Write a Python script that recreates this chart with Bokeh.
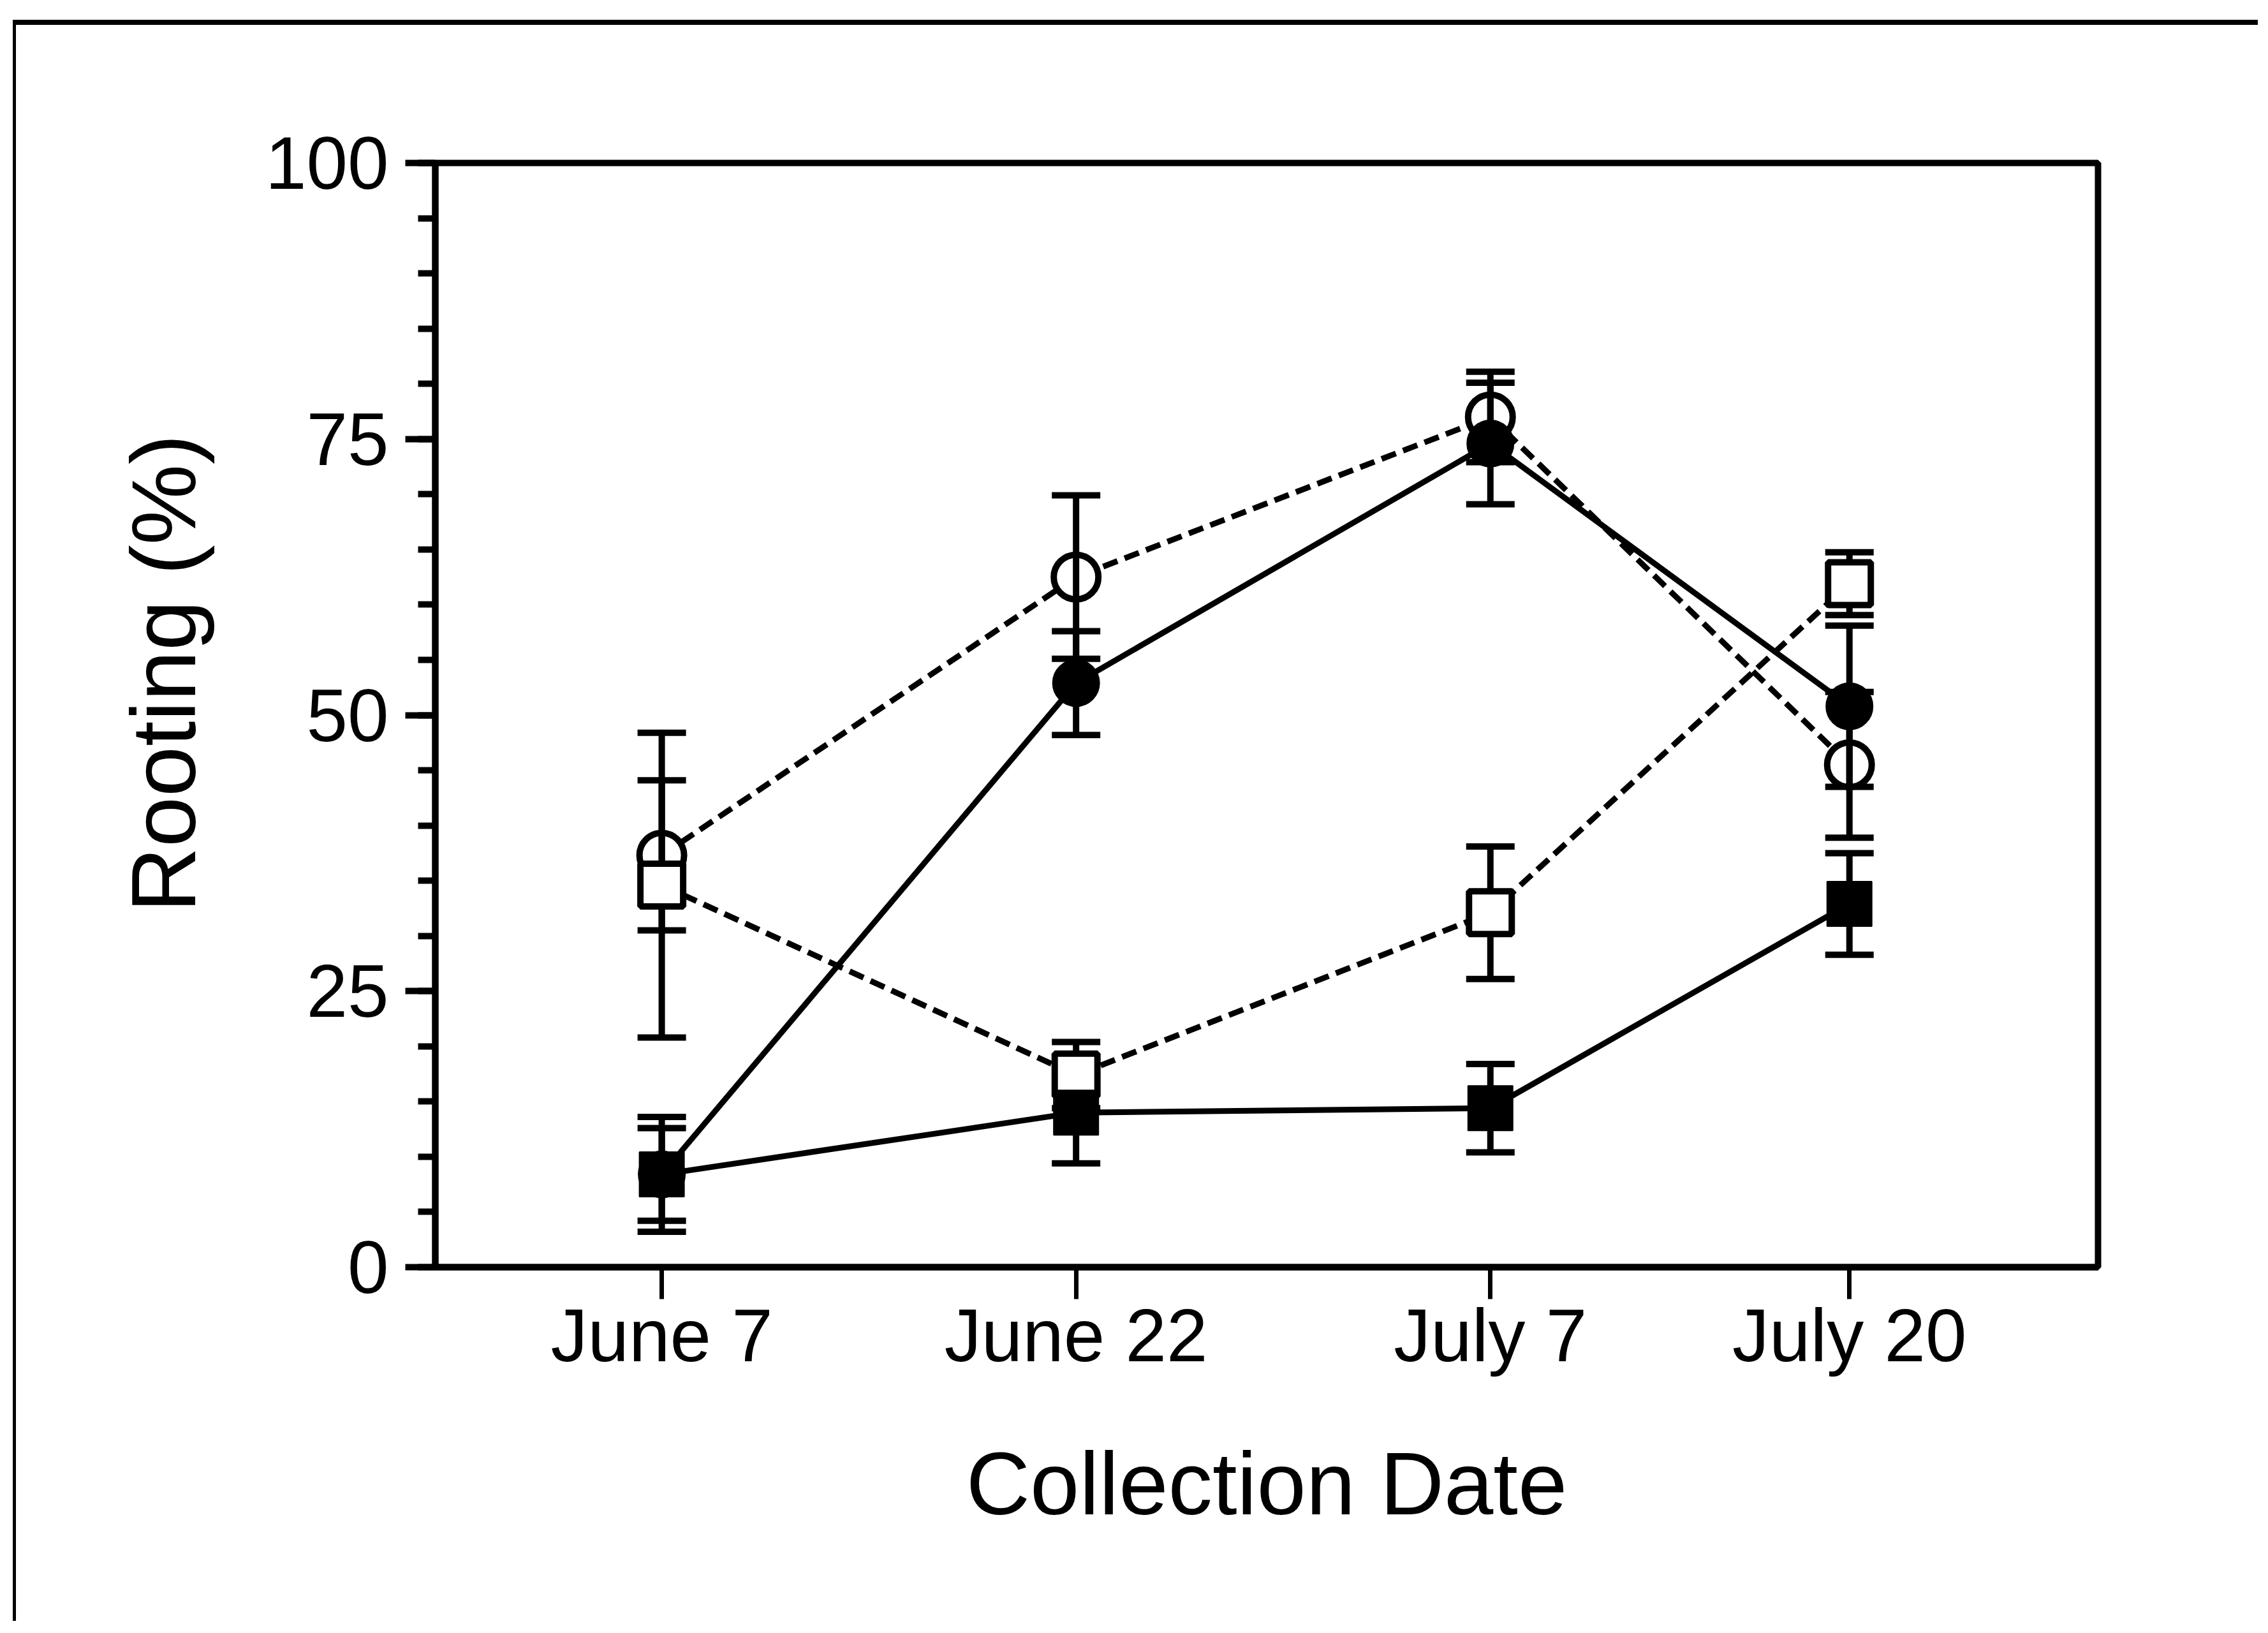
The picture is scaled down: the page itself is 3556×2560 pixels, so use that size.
from datetime import date

from bokeh.plotting import figure
from bokeh.models import ColumnDataSource, Whisker, TeeHead, FixedTicker, Range1d, Title
from bokeh.embed import file_html
from bokeh.resources import INLINE

# ---------------- data ----------------
collection_dates = [date(2000, 6, 7), date(2000, 6, 22), date(2000, 7, 7), date(2000, 7, 20)]
date_labels = ["June 7", "June 22", "July 7", "July 20"]

open_circle_mean = [37.3, 62.5, 77.0, 45.5]
open_circle_err = [6.8, 7.4, 4.1, 6.6]

filled_circle_mean = [8.4, 52.9, 74.6, 50.8]
filled_circle_err = [4.2, 4.7, 5.5, 7.3]

open_square_mean = [34.6, 17.4, 32.1, 61.9]
open_square_err = [13.8, 3.0, 6.0, 2.85]

filled_square_mean = [8.4, 14.0, 14.4, 32.9]
filled_square_err = [5.2, 4.6, 4.0, 4.6]

y_major_ticks = [0, 25, 50, 75, 100]
y_minor_ticks = list(range(0, 101, 5))

x_title = "Collection Date"
y_title = "Rooting (%)"

# day offsets from first collection date
days = [(d - collection_dates[0]).days for d in collection_dates]

FONT = "Liberation Sans"

p = figure(
    width=3520, height=2510,
    x_range=Range1d(-8.2, 52.0), y_range=Range1d(0, 100),
    output_backend="svg", toolbar_location=None,
    min_border_left=657, min_border_right=256, min_border_top=216, min_border_bottom=563,
    background_fill_color="white", border_fill_color="white",
)
p.margin = (31, 0, 0, 20)
p.styles = {"border-top": "8px solid black", "border-left": "5px solid black"}

p.xgrid.visible = False
p.ygrid.visible = False
p.outline_line_color = "black"
p.outline_line_width = 10
p.outline_line_alpha = 1.0

# x axis
xa = p.xaxis[0]
xa.ticker = FixedTicker(ticks=days)
xa.major_label_overrides = {d: lab for d, lab in zip(days, date_labels)}
xa.minor_tick_line_color = None
xa.major_tick_in = 0
xa.major_tick_out = 50
xa.major_tick_line_width = 7
xa.axis_line_width = 10
xa.major_label_text_font = FONT
xa.major_label_text_font_size = "116px"
xa.major_label_text_color = "black"
xa.major_label_standoff = -8
xa.axis_label = x_title
xa.axis_label_text_font = FONT
xa.axis_label_text_font_size = "139px"
xa.axis_label_text_font_style = "normal"
xa.axis_label_text_color = "black"
xa.axis_label_standoff = 86

# y axis
ya = p.yaxis[0]
ya.ticker = FixedTicker(ticks=y_major_ticks, minor_ticks=y_minor_ticks)
ya.major_tick_in = 0
ya.major_tick_out = 47
ya.minor_tick_in = 0
ya.minor_tick_out = 27
ya.major_tick_line_width = 10
ya.minor_tick_line_width = 10
ya.axis_line_width = 10
ya.major_label_text_font = FONT
ya.major_label_text_font_size = "116px"
ya.major_label_text_color = "black"
ya.major_label_standoff = 26

# y-axis title in the left side panel (shifted up like the original)
p.add_layout(Title(text=y_title, align="left", offset=529, standoff=100, padding=27,
                   text_font=FONT, text_font_size="142px", text_font_style="normal",
                   text_color="black"), "left")

series = [
    ("open_circle", open_circle_mean, open_circle_err, "24 12"),
    ("filled_circle", filled_circle_mean, filled_circle_err, "solid"),
    ("open_square", open_square_mean, open_square_err, "24 12"),
    ("filled_square", filled_square_mean, filled_square_err, "solid"),
]

sources = {}
for name, mean, err, dash in series:
    src = ColumnDataSource(dict(
        x=days, y=mean,
        upper=[m + e for m, e in zip(mean, err)],
        lower=[m - e for m, e in zip(mean, err)],
    ))
    sources[name] = src
    p.line("x", "y", source=src, line_color="black", line_width=9, line_dash=dash, level="underlay")

# open circles (white fill) below the error bars
p.scatter("x", "y", source=sources["open_circle"], marker="circle", size=70,
          fill_color="white", line_color="black", line_width=10, level="underlay")

for name, mean, err, dash in series:
    w = Whisker(base="x", upper="upper", lower="lower", source=sources[name],
                line_color="black", line_width=10, level="underlay",
                upper_head=TeeHead(size=76, line_width=10, line_color="black"),
                lower_head=TeeHead(size=76, line_width=10, line_color="black"))
    p.add_layout(w)

p.scatter("x", "y", source=sources["filled_circle"], marker="circle", size=73,
          fill_color="black", line_color="black", line_width=2)
p.scatter("x", "y", source=sources["open_square"], marker="square", size=67,
          fill_color="white", line_color="black", line_width=10)
p.scatter("x", "y", source=sources["filled_square"], marker="square", size=70,
          fill_color="black", line_color="black", line_width=2)

open("out.html", "w").write(file_html(p, INLINE))
